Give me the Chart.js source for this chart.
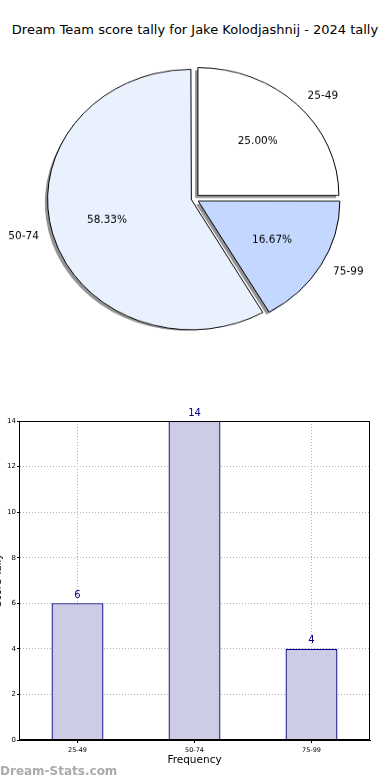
<!DOCTYPE html>
<html>
<head>
<meta charset="utf-8">
<script src="https://cdn.jsdelivr.net/npm/chart.js@4.4.0/dist/chart.umd.min.js"></script>
<style>
  body { margin: 0; background: #fff; width: 390px; height: 780px; position: relative; overflow: hidden; font-family: "DejaVu Sans", sans-serif; }
  #title { position: absolute; top: 22px; left: 0; width: 390px; text-align: center; font-size: 13px; line-height: 16px; color: #000; }
  #pieChart { position: absolute; left: 0; top: 0; transform: scaleY(0.906); transform-origin: 0 0; }
  #barChart { position: absolute; left: 0; top: 390px; }
  #watermark { position: absolute; left: 0; top: 763px; font-size: 12px; font-weight: bold; color: #ababab; line-height: 16px; }
</style>
</head>
<body>
<div id="title">Dream Team score tally for Jake Kolodjashnij - 2024 tally</div>
<canvas id="pieChart" width="390" height="430"></canvas>
<canvas id="barChart" width="390" height="390"></canvas>
<div id="watermark">Dream-Stats.com</div>
<script>
// Data
const bins = ["25-49", "50-74", "75-99"];
const counts = [6, 14, 4];
const yTicks = [0, 2, 4, 6, 8, 10, 12, 14];

// Styles
const binColors = ["#ffffff", "#eaf1fe", "#c4d8ff"];
const binOffsets = [22, 11, 19.4];
const PIE_SY = 0.906;
const FONT = "DejaVu Sans";
const total = counts.reduce((a, b) => a + b, 0);

// pie is drawn clockwise from 3 o'clock, so reverse the order
const pieLabels = bins.slice().reverse();
const pieValues = counts.slice().reverse();

function drawText(ctx, text, x, y, align) {
  ctx.save();
  ctx.translate(x, y);
  ctx.scale(1, 1 / PIE_SY);
  ctx.textAlign = align;
  ctx.textBaseline = "middle";
  ctx.fillText(text, 0, 0);
  ctx.restore();
}

function arcCenter(arc) {
  const mid = (arc.startAngle + arc.endAngle) / 2;
  const circ = arc.endAngle - arc.startAngle;
  const off = (arc.options.offset || 0) / 4;
  const fix = 1 - Math.sin(Math.min(Math.PI, circ));
  const shift = off * (1 + fix);
  return { mid, x: arc.x + Math.cos(mid) * shift, y: arc.y + Math.sin(mid) * shift };
}

// Shadow + labels for the pie
const piePlugin = {
  id: "piePlugin",
  beforeDatasetsDraw(chart) {
    const ctx = chart.ctx;
    chart.getDatasetMeta(0).data.forEach(arc => {
      const c = arcCenter(arc);
      ctx.save();
      ctx.translate(-2.8, 2.9);
      ctx.beginPath();
      ctx.moveTo(c.x, c.y);
      ctx.arc(c.x, c.y, arc.outerRadius, arc.startAngle, arc.endAngle);
      ctx.closePath();
      ctx.fillStyle = "rgba(60,60,60,0.55)";
      ctx.fill();
      ctx.restore();
    });
  },
  afterDatasetsDraw(chart) {
    const ctx = chart.ctx;
    ctx.save();
    ctx.fillStyle = "#000";
    ctx.font = "10.5px '" + FONT + "'";
    chart.getDatasetMeta(0).data.forEach((arc, i) => {
      const c = arcCenter(arc);
      const r = arc.outerRadius;
      const cos = Math.cos(c.mid), sin = Math.sin(c.mid);
      const pct = (pieValues[i] / total * 100).toFixed(2) + "%";
      drawText(ctx, pct, c.x + cos * r * 0.6, c.y + sin * r * 0.6, "center");
      drawText(ctx, pieLabels[i], c.x + cos * r * 1.1, c.y + sin * r * 1.1, cos > 0 ? "left" : "right");
    });
    ctx.restore();
  }
};

new Chart(document.getElementById("pieChart"), {
  type: "pie",
  data: {
    labels: pieLabels,
    datasets: [{
      data: pieValues,
      backgroundColor: binColors.slice().reverse(),
      borderColor: "#000",
      borderWidth: 1,
      offset: binOffsets.slice().reverse(),
      radius: 141
    }]
  },
  options: {
    responsive: false,
    animation: false,
    devicePixelRatio: 1,
    rotation: 90,
    layout: { padding: { left: 0, right: 2, top: 10, bottom: 1 } },
    plugins: { legend: { display: false }, tooltip: { enabled: false } }
  },
  plugins: [piePlugin]
});

// Frame on all four sides of the bar axes
const framePlugin = {
  id: "framePlugin",
  afterDraw(chart) {
    const a = chart.chartArea;
    const ctx = chart.ctx;
    ctx.save();
    ctx.strokeStyle = "#000";
    ctx.lineWidth = 1;
    ctx.strokeRect(Math.round(a.left) + 0.5, Math.round(a.top) + 0.5, Math.round(a.right - a.left) - 1, Math.round(a.bottom - a.top) - 1);
    ctx.restore();
  }
};

// Count above each bar
const valuePlugin = {
  id: "valuePlugin",
  afterDatasetsDraw(chart) {
    const ctx = chart.ctx;
    ctx.save();
    ctx.fillStyle = "#000080";
    ctx.font = "10px '" + FONT + "'";
    ctx.textAlign = "center";
    ctx.textBaseline = "middle";
    chart.getDatasetMeta(0).data.forEach((bar, i) => {
      ctx.fillText(String(counts[i]), bar.x, bar.y - 8);
    });
    ctx.restore();
  }
};

new Chart(document.getElementById("barChart"), {
  type: "bar",
  data: {
    labels: bins,
    datasets: [{
      data: counts,
      backgroundColor: "#ccccE6",
      borderColor: "#000080",
      borderWidth: 1.3,
      barPercentage: 0.444,
      categoryPercentage: 1
    }]
  },
  options: {
    responsive: false,
    animation: false,
    devicePixelRatio: 1,
    layout: { padding: { left: -8, right: 20, top: 31, bottom: 13 } },
    plugins: { legend: { display: false }, tooltip: { enabled: false } },
    scales: {
      x: {
        offset: true,
        grid: { offset: false, color: "#b0b0b0", tickLength: 3, tickColor: "#000" },
        border: { color: "#000", width: 1, dash: [1, 2] },
        ticks: { color: "#000", font: { family: FONT, size: 6.5 }, padding: 3, maxRotation: 0 },
        title: { display: true, text: "Frequency", color: "#000", font: { family: FONT, size: 10.5 }, padding: 0 },
        afterFit(s) { s.height = 27; }
      },
      y: {
        min: 0,
        max: 14,
        afterBuildTicks(s) { s.ticks = yTicks.map(v => ({ value: v })); },
        grid: { color: "#b0b0b0", tickLength: 2, tickColor: "#000" },
        border: { color: "#000", width: 1, dash: [1, 2] },
        ticks: { color: "#000", font: { family: FONT, size: 7 }, padding: 1 },
        title: { display: true, text: "Score Tally", color: "#000", font: { family: FONT, size: 10 }, padding: 0 },
        afterFit(s) { s.width = 27; }
      }
    }
  },
  plugins: [framePlugin, valuePlugin]
});
</script>
</body>
</html>
